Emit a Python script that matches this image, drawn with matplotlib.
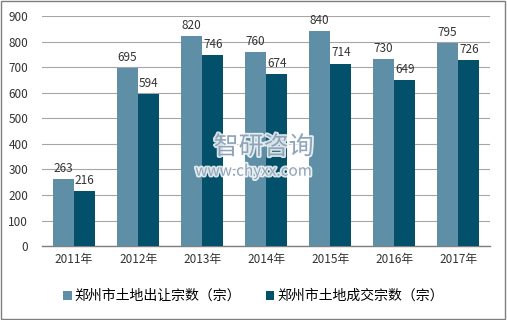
import matplotlib
matplotlib.use("Agg")
import matplotlib.pyplot as plt
import matplotlib.patheffects as pe
import numpy as np
from matplotlib.patches import Rectangle

plt.rcParams["font.family"] = ["Noto Sans CJK SC", "DejaVu Sans"]

# ── Data ──────────────────────────────────────────────────────────────
years = ["2011年", "2012年", "2013年", "2014年", "2015年", "2016年", "2017年"]
transfer = [263, 695, 820, 760, 840, 730, 795]
deals = [216, 594, 746, 674, 714, 649, 726]
names = ["郑州市土地出让宗数（宗）", "郑州市土地成交宗数（宗）"]

LIGHT = "#5f8fa6"
DARK = "#03506a"

fig = plt.figure(figsize=(5.07, 3.2), dpi=100)
ax = fig.add_axes([0.083, 0.231, 0.884, 0.719])

x = np.arange(len(years))
w = 0.33
b1 = ax.bar(x - w / 2, transfer, w, color=LIGHT, label=names[0], zorder=3)
b2 = ax.bar(x + w / 2, deals, w, color=DARK, label=names[1], zorder=3)

for bars in (b1, b2):
    for bar in bars:
        ax.text(bar.get_x() + bar.get_width() / 2, bar.get_height() + 16,
                f"{int(bar.get_height())}", ha="center", va="bottom",
                fontsize=8.5, color="#333333")

ax.set_xlim(-0.5, len(years) - 0.5)
ax.set_ylim(0, 900)
ax.set_yticks(range(0, 901, 100))
ax.set_xticks(x)
ax.set_xticklabels(years)
ax.tick_params(axis="both", length=0, labelsize=8.5, colors="#333333")
ax.tick_params(axis="y", pad=10)
ax.tick_params(axis="x", pad=5)
ax.grid(axis="y", color="#a6a6a6", linewidth=0.8, zorder=0)
for s in ("top", "right", "left"):
    ax.spines[s].set_visible(False)
ax.spines["bottom"].set_color("#7f7f7f")
ax.spines["bottom"].set_linewidth(1.0)

# watermark
stroke = [pe.withStroke(linewidth=2.5, foreground="white")]
fig.text(0.52, 0.54, "智研咨询", ha="center", va="center", fontsize=18,
         color="#7d97b0", alpha=0.85, zorder=10, path_effects=stroke)
fig.text(0.50, 0.465, "www.chyxx.com", ha="center", va="center", fontsize=11,
         color="#7d97b0", alpha=0.85, zorder=10, path_effects=stroke)

fig.legend(loc="center", bbox_to_anchor=(0.5, 0.075), ncol=2,
           frameon=False, fontsize=10, handlelength=0.6, handleheight=0.6,
           handletextpad=0.2, columnspacing=1.8)

fig.patches.append(Rectangle((0.002, 0.003), 0.995, 0.993, transform=fig.transFigure,
                             fill=False, edgecolor="#7f7f7f", linewidth=1.0))

fig.savefig("out.png", dpi=100)
